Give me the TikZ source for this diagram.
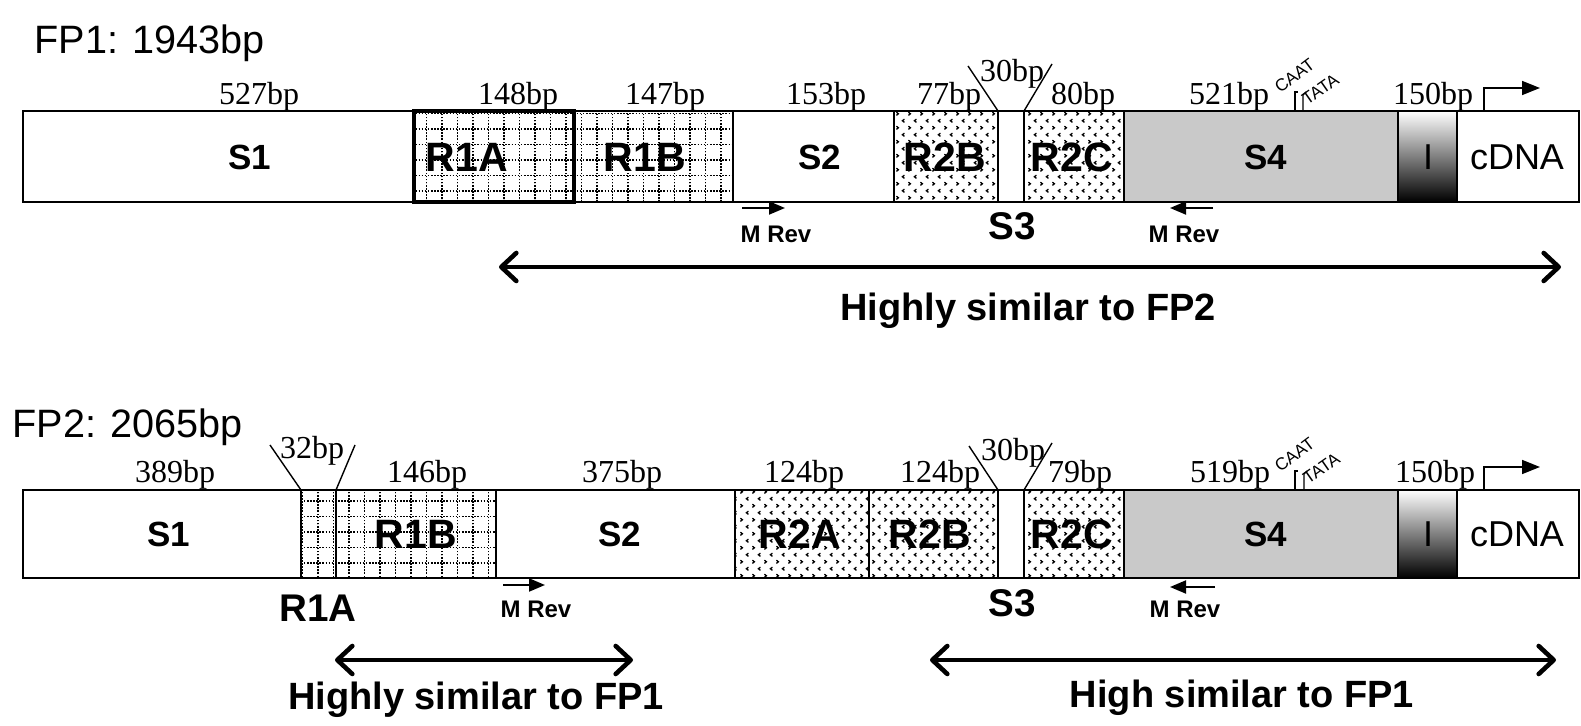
\documentclass[tikz,border=0pt]{standalone}
\usepackage{fontspec}
\setmainfont{Liberation Serif}
\setsansfont{Liberation Sans}
\usetikzlibrary{arrows.meta, positioning, patterns}

% dotted grid for the R1 repeats
\pgfdeclarepatternformonly{dotgrid}{\pgfpoint{-0.1pt}{-0.1pt}}{\pgfpoint{7.85pt}{7.85pt}}{\pgfpoint{7.75pt}{7.75pt}}{%
  \pgfsetlinewidth{0.75pt}%
  \pgfsetdash{{0.8pt}{0.75pt}}{0pt}%
  \pgfpathmoveto{\pgfpoint{0pt}{3.9pt}}\pgfpathlineto{\pgfpoint{7.75pt}{3.9pt}}%
  \pgfpathmoveto{\pgfpoint{3.9pt}{0pt}}\pgfpathlineto{\pgfpoint{3.9pt}{7.75pt}}%
  \pgfusepath{stroke}}
% small chevrons for the R2 repeats
\pgfdeclarepatternformonly{chevrons}{\pgfpoint{-0.1pt}{-0.1pt}}{\pgfpoint{6.1pt}{7.1pt}}{\pgfpoint{6pt}{7pt}}{%
  \pgfsetlinewidth{0.65pt}%
  \pgfpathmoveto{\pgfpoint{2.2pt}{0.8pt}}\pgfpathlineto{\pgfpoint{1.2pt}{1.6pt}}\pgfpathlineto{\pgfpoint{2.2pt}{2.4pt}}%
  \pgfpathmoveto{\pgfpoint{4.2pt}{4.3pt}}\pgfpathlineto{\pgfpoint{5.2pt}{5.1pt}}\pgfpathlineto{\pgfpoint{4.2pt}{5.9pt}}%
  \pgfusepath{stroke}}

\begin{document}
\begin{tikzpicture}[
    x=0.5pt, y=-0.5pt,
    seg/.style={draw, line width=0.9pt, inner sep=0pt, outer sep=0pt, anchor=west},
    rowa/.style={minimum height=45.5pt},
    rowb/.style={minimum height=44pt},
    rrep/.style={pattern=dotgrid},
    rtwo/.style={pattern=chevrons},
    sfour/.style={fill=black!21},
    intron/.style={top color=white, middle color=black!55, bottom color=black},
    slab/.style={font=\sffamily\bfseries\fontsize{17.5}{18}\selectfont, inner sep=0pt},
    rlab/.style={font=\sffamily\bfseries\fontsize{20.5}{21}\selectfont, inner sep=0pt},
    plain/.style={font=\sffamily\fontsize{18}{18}\selectfont, inner sep=0pt},
    title/.style={font=\sffamily\fontsize{19.8}{20}\selectfont, anchor=base west, inner sep=0pt},
    bp/.style={font=\rmfamily\fontsize{16}{16}\selectfont, anchor=base, inner sep=0pt},
    below lab/.style={font=\sffamily\bfseries\fontsize{19.3}{20}\selectfont, inner sep=0pt},
    motif/.style={font=\sffamily\fontsize{8.6}{9}\selectfont, inner sep=0pt, anchor=base west},
    mrev/.style={font=\sffamily\bfseries\fontsize{12}{12}\selectfont, inner sep=0pt},
    sim/.style={font=\sffamily\bfseries\fontsize{19}{20}\selectfont, inner sep=0pt},
    primer/.style={line width=1pt, -{Triangle[length=8pt,width=6.5pt]}},
    simarrow/.style={line width=2.3pt, {Straight Barb[length=7.5pt,width=14pt,round]}-{Straight Barb[length=7.5pt,width=14pt,round]}},
    tss/.style={line width=0.8pt, -{Triangle[length=9pt,width=7pt]}}
]
    \fill[white] (0,0) rectangle (1581,726);

    % FP1
    \node[title] (fp1t) at (34,54) {FP1: 1943bp};
    \node[seg, rowa, anchor=north west, minimum width=195.5pt] (fp1s1) at (23,111) {};
    \node[seg, rowa, rrep, minimum width=80pt, line width=1.8pt] (fp1r1a) [right=0pt of fp1s1] {};
    \node[seg, rowa, rrep, minimum width=79.5pt] (fp1r1b) [right=0pt of fp1r1a] {};
    \node[seg, rowa, minimum width=80.5pt] (fp1s2) [right=0pt of fp1r1b] {};
    \node[seg, rowa, rtwo, minimum width=52pt] (fp1r2b) [right=0pt of fp1s2] {};
    \node[seg, rowa, minimum width=13pt] (fp1s3) [right=0pt of fp1r2b] {};
    \node[seg, rowa, rtwo, minimum width=50pt] (fp1r2c) [right=0pt of fp1s3] {};
    \node[seg, rowa, sfour, minimum width=137pt] (fp1s4) [right=0pt of fp1r2c] {};
    \node[seg, rowa, intron, minimum width=29.5pt] (fp1i) [right=0pt of fp1s4] {};
    \node[seg, rowa, minimum width=61pt] (fp1cdna) [right=0pt of fp1i] {};

    \node[slab] (fp1s1l) at (250,157) {S1};
    \node[rlab] (fp1r1al) at (467,157) {R1A};
    \node[rlab] (fp1r1bl) at (645,157) {R1B};
    \node[slab] (fp1s2l) at (820,157) {S2};
    \node[rlab] (fp1r2bl) at (945,157) {R2B};
    \node[rlab] (fp1r2cl) at (1072,157) {R2C};
    \node[slab] (fp1s4l) at (1266,157) {S4};
    \node[plain] (fp1il) at (1428,157) {I};
    \node[plain] (fp1cdnal) at (1517,157) {cDNA};

    \node[bp] (fp1l1) at (259,105) {527bp};
    \node[bp] (fp1l2) at (518,105) {148bp};
    \node[bp] (fp1l3) at (665,105) {147bp};
    \node[bp] (fp1l4) at (826,105) {153bp};
    \node[bp] (fp1l5) at (949,105) {77bp};
    \node[bp] (fp1l6) at (1012,82) {30bp};
    \node[bp] (fp1l7) at (1083,105) {80bp};
    \node[bp] (fp1l8) at (1229,105) {521bp};
    \node[bp] (fp1l9) at (1433,105) {150bp};
    \draw[line width=0.7pt] (fp1r2b.north east) -- ++(-30,-45);
    \draw[line width=0.7pt] (fp1r2c.north west) -- ++(28,-47);

    \draw[line width=0.7pt] (1295,111) -- ++(0,-19) -- ++(3,0);
    \draw[line width=0.7pt] (1303,111) -- ++(0,-16) -- ++(3,-3);
    \node[motif, rotate=37] (fp1caat) at (1280,94) {CAAT};
    \node[motif, rotate=35] (fp1tata) at (1307,106) {TATA};
    \draw[tss] ([xshift=13.5pt]fp1cdna.north west) |- ++(56,-23);

    \node[below lab] (fp1s3l) at (1012,226) {S3};
    \node[mrev] (fp1m1) at (776,234) {M Rev};
    \node[mrev] (fp1m2) at (1184,234) {M Rev};
    \draw[primer] (742,208) -- ++(43,0);
    \draw[primer] (1213,208) -- ++(-43,0);

    \node[sim] (fp1sim) at (1028,311) {Highly similar to FP2};
    \draw[simarrow] (499,267) -- (1561,267);

    % FP2
    \node[title] (fp2t) at (12,438) {FP2: 2065bp};
    \node[seg, rowb, anchor=north west, minimum width=139pt] (fp2s1) at (23,490) {};
    \node[seg, rowb, rrep, minimum width=17.5pt] (fp2r1a) [right=0pt of fp2s1] {};
    \node[seg, rowb, rrep, minimum width=80pt] (fp2r1b) [right=0pt of fp2r1a] {};
    \node[seg, rowb, minimum width=119.5pt] (fp2s2) [right=0pt of fp2r1b] {};
    \node[seg, rowb, rtwo, minimum width=67pt] (fp2r2a) [right=0pt of fp2s2] {};
    \node[seg, rowb, rtwo, minimum width=64.5pt] (fp2r2b) [right=0pt of fp2r2a] {};
    \node[seg, rowb, minimum width=13pt] (fp2s3) [right=0pt of fp2r2b] {};
    \node[seg, rowb, rtwo, minimum width=50pt] (fp2r2c) [right=0pt of fp2s3] {};
    \node[seg, rowb, sfour, minimum width=137pt] (fp2s4) [right=0pt of fp2r2c] {};
    \node[seg, rowb, intron, minimum width=29.5pt] (fp2i) [right=0pt of fp2s4] {};
    \node[seg, rowb, minimum width=61pt] (fp2cdna) [right=0pt of fp2i] {};
    \draw[line width=1.3pt] (fp2r1a.north east) -- (fp2r1a.south east);

    \node[slab] (fp2s1l) at (169,534) {S1};
    \node[rlab] (fp2r1bl) at (416,534) {R1B};
    \node[slab] (fp2s2l) at (620,534) {S2};
    \node[rlab] (fp2r2al) at (800,534) {R2A};
    \node[rlab] (fp2r2bl) at (930,534) {R2B};
    \node[rlab] (fp2r2cl) at (1072,534) {R2C};
    \node[slab] (fp2s4l) at (1266,534) {S4};
    \node[plain] (fp2il) at (1428,534) {I};
    \node[plain] (fp2cdnal) at (1517,534) {cDNA};

    \node[bp] (fp2l1) at (175,483) {389bp};
    \node[bp] (fp2l2) at (312,459) {32bp};
    \node[bp] (fp2l3) at (427,483) {146bp};
    \node[bp] (fp2l4) at (622,483) {375bp};
    \node[bp] (fp2l5) at (804,483) {124bp};
    \node[bp] (fp2l6) at (940,483) {124bp};
    \node[bp] (fp2l7) at (1013,461) {30bp};
    \node[bp] (fp2l8) at (1080,483) {79bp};
    \node[bp] (fp2l9) at (1230,483) {519bp};
    \node[bp] (fp2l10) at (1435,483) {150bp};
    \draw[line width=0.7pt] (fp2r1a.north west) -- ++(-31,-45);
    \draw[line width=0.7pt] (fp2r1a.north east) -- ++(19,-45);
    \draw[line width=0.7pt] (fp2r2b.north east) -- ++(-29,-44);
    \draw[line width=0.7pt] (fp2s3.north east) -- ++(28,-47);

    \draw[line width=0.7pt] (1295,490) -- ++(0,-19) -- ++(3,0);
    \draw[line width=0.7pt] (1304,490) -- ++(0,-16) -- ++(3,-3);
    \node[motif, rotate=37] (fp2caat) at (1280,473) {CAAT};
    \node[motif, rotate=35] (fp2tata) at (1308,485) {TATA};
    \draw[tss] ([xshift=13.5pt]fp2cdna.north west) |- ++(56,-23);

    \node[below lab] (fp2r1al) at (318,608) {R1A};
    \node[below lab] (fp2s3l) at (1012,603) {S3};
    \node[mrev] (fp2m1) at (536,609) {M Rev};
    \node[mrev] (fp2m2) at (1185,609) {M Rev};
    \draw[primer] (503,585) -- ++(42,0);
    \draw[primer] (1215,587) -- ++(-45,0);

    \node[sim] (fp2sim1) at (476,700) {Highly similar to FP1};
    \node[sim] (fp2sim2) at (1242,698) {High similar to FP1};
    \draw[simarrow] (335,660) -- (633,660);
    \draw[simarrow] (930,660) -- (1556,660);
\end{tikzpicture}
\end{document}
